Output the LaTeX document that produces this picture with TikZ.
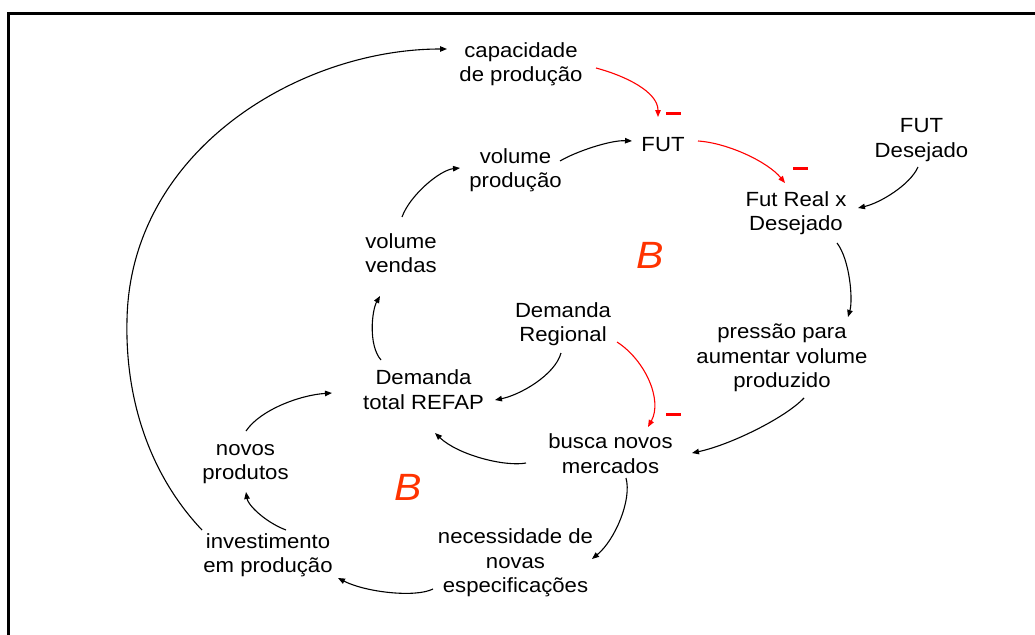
\documentclass[tikz,border=0pt]{standalone}
\usepackage{fontspec}
\setmainfont{Liberation Sans}[FakeStretch=1.08]
\usetikzlibrary{arrows.meta}
\definecolor{loopred}{HTML}{FF3300}
\begin{document}
\begin{tikzpicture}[x=1pt,y=-1pt,
  lbl/.style={align=center, inner sep=0pt, font=\fontsize{20.5}{24.5}\selectfont},
  link/.style={line width=1.1pt, -{Triangle[length=7pt,width=5.5pt]}},
  neglink/.style={link, red},
  negmark/.style={fill=red, draw=none, inner sep=0pt, minimum width=15pt, minimum height=3pt},
  loopmark/.style={font=\fontsize{38}{38}\selectfont\itshape, text=loopred, inner sep=0pt}]
\useasboundingbox (0,0) rectangle (1035,634);

% frame
\draw[line width=2.7pt, line join=miter] (1040,13.5) -- (8.5,13.5) -- (8.5,640);

% variables
\node[lbl] (cap)     at (521,64)    {capacidade\\de produção};
\node[lbl] (fut)     at (663,145)   {FUT};
\node[lbl] (futdes)  at (921.5,140) {FUT\\Desejado};
\node[lbl] (volprod) at (515.5,170) {volume\\produção};
\node[lbl] (futreal) at (796,213)   {Fut Real x\\Desejado};
\node[lbl] (volvend) at (401,253)   {volume\\vendas};
\node[lbl] (demreg)  at (563,324)   {Demanda\\Regional};
\node[lbl] (pressao) at (782,358)   {pressão para\\aumentar volume\\produzido};
\node[lbl] (demtot)  at (423.5,389.5) {Demanda\\total REFAP};
\node[lbl] (novos)   at (245.5,464) {novos\\produtos};
\node[lbl] (busca)   at (610.5,453.5) {busca novos\\mercados};
\node[lbl] (nec)     at (515.5,563) {necessidade de\\novas\\especificações};
\node[lbl] (inv)     at (268,555)   {investimento\\em produção};

% loop markers
\node[loopmark] (b1) at (650,255) {B};
\node[loopmark] (b2) at (408,487) {B};

% polarity marks
\node[negmark] (m1) at (673,113) {};
\node[negmark] (m2) at (800,168) {};
\node[negmark] (m3) at (673,414) {};

% negative links
\draw[neglink] ([shift={(75,4)}]cap.center) .. controls +(30,8) and +(0,-25) .. ([shift={(-5,-28)}]fut.center);
\draw[neglink] ([shift={(35,-4)}]fut.center) .. controls +(30,2) and +(-17,-21) .. ([shift={(-11,-30)}]futreal.center);
\draw[neglink] ([shift={(54,18)}]demreg.center) .. controls +(28,18) and +(15,-27) .. ([shift={(37.5,-26.5)}]busca.center);

% positive links
\draw[link] ([shift={(44.5,-9)}]volprod.center) .. controls +(15,-9) and +(-22,-1) .. ([shift={(-31,-4)}]fut.center);
\draw[link] ([shift={(1,-36)}]volvend.center) .. controls +(8,-22) and +(-20,2) .. ([shift={(-55.5,-2)}]volprod.center);
\draw[link] ([shift={(-42.5,-29.5)}]demtot.center) .. controls +(-13,-15) and +(-8,14) .. ([shift={(-21,43)}]volvend.center);
\draw[link] ([shift={(-2,29)}]demreg.center) .. controls +(-6,22) and +(25,-5) .. ([shift={(71.5,10.5)}]demtot.center);
\draw[link] ([shift={(41,30)}]futreal.center) .. controls +(13,17) and +(5,-17) .. ([shift={(66,-41)}]pressao.center);
\draw[link] ([shift={(-3.5,27)}]futdes.center) .. controls +(-8,18) and +(22,-5) .. ([shift={(62,-5)}]futreal.center);
\draw[link] ([shift={(22,40)}]pressao.center) .. controls +(-19,20) and +(38,-8) .. ([shift={(81.5,-0.5)}]busca.center);
\draw[link] ([shift={(-84.5,9.5)}]busca.center) .. controls +(-21,4) and +(23,22) .. ([shift={(11.5,43.5)}]demtot.center);
\draw[link] ([shift={(15.5,24.5)}]busca.center) .. controls +(6,22) and +(23,-19) .. ([shift={(76.5,-4)}]nec.center);
\draw[link] ([shift={(-82.5,26)}]nec.center) .. controls +(-18,9) and +(27,14) .. ([shift={(70,23)}]inv.center);
\draw[link] ([shift={(18,-25)}]inv.center) .. controls +(-21,-8) and +(2,13) .. ([shift={(0.5,28)}]novos.center);
\draw[link] ([shift={(0.5,-33)}]novos.center) .. controls +(14,-21) and +(-32,2) .. ([shift={(-91.5,3.5)}]demtot.center);

% long outer link
\coordinate (arcleft) at (127,320);
\draw[link] ([shift={(-66,-25)}]inv.center) .. controls (150,475) and (125,400) .. (arcleft)
  .. controls (130,150) and (300,49) .. ([shift={(-74,-15)}]cap.center);
\end{tikzpicture}
\end{document}
